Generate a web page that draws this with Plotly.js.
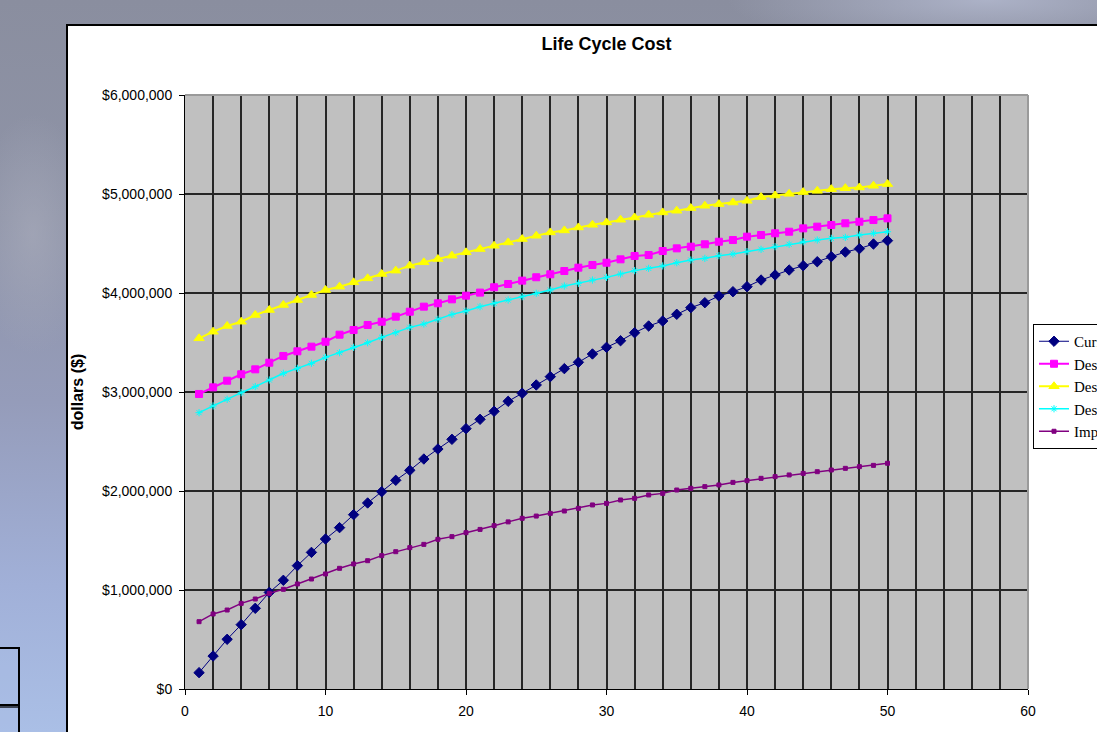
<!DOCTYPE html>
<html>
<head>
<meta charset="utf-8">
<script src="https://cdn.plot.ly/plotly-3.0.1.min.js"></script>
<style>
html, body { margin:0; padding:0; width:1097px; height:732px; overflow:hidden; }
body {
  position:relative;
  background:
    radial-gradient(ellipse 260px 50px at 90% 0%, rgba(178,184,206,0.85), rgba(178,184,206,0) 100%),
    radial-gradient(ellipse 60px 120px at 3% 32%, rgba(170,173,188,0.6), rgba(170,173,188,0) 100%),
    linear-gradient(180deg, #8a8e9f 0%, #8f94a8 30%, #959cba 55%, #a1b0d8 80%, #aabfe6 100%);
}
#panel { position:absolute; left:66px; top:24px; width:1060px; height:740px; background:#fff; border:2px solid #000; }
#tbl { position:absolute; left:-4px; top:647px; width:20px; height:57px; border:2px solid #000; background:rgba(170,190,230,0.35); }
#tbl2 { position:absolute; left:-4px; top:704px; width:20px; height:60px; border:2px solid #000; background:rgba(170,190,230,0.35); }
#chart { position:absolute; left:0; top:0; width:1097px; height:732px; }
</style>
</head>
<body>
<div id="panel"></div>
<div id="tbl"></div>
<div id="tbl2"></div>
<div id="chart"></div>
<script>
// Years of service
const years = [1,2,3,4,5,6,7,8,9,10,11,12,13,14,15,16,17,18,19,20,
  21,22,23,24,25,26,27,28,29,30,31,32,33,34,35,36,37,38,39,40,
  41,42,43,44,45,46,47,48,49,50];

// Series names (legend, partly cut off in the reference)
const seriesNames = ['Current', 'Design 1', 'Design 2', 'Design 3', 'Improved'];

// Cumulative life cycle cost, in thousands of dollars
const currentK = [165,333,502,650,815,976,1098,1246,1380,1515,1630,1761,1879,1993,2108,2209,2323,2424,2522,2630,
  2724,2805,2906,2987,3071,3155,3236,3300,3384,3451,3518,3599,3667,3717,3785,3852,3902,3970,4013,4064,
  4131,4182,4232,4276,4316,4367,4414,4448,4495,4529];
const design1K = [2980,3047,3114,3179,3229,3296,3364,3411,3458,3508,3579,3626,3677,3710,3761,3811,3862,3896,3936,3973,
  4004,4058,4091,4125,4159,4189,4222,4256,4283,4306,4340,4374,4384,4424,4451,4468,4492,4518,4535,4569,
  4586,4603,4619,4653,4670,4687,4704,4720,4737,4754];
const design2K = [3542,3609,3667,3710,3778,3828,3879,3929,3980,4030,4064,4108,4148,4192,4226,4276,4310,4343,4377,4411,
  4444,4477,4511,4545,4578,4612,4632,4662,4689,4713,4740,4763,4790,4814,4831,4858,4881,4898,4914,4931,
  4969,4985,5002,5019,5032,5049,5059,5066,5083,5100];
const design3K = [2791,2859,2926,2993,3054,3121,3189,3239,3290,3350,3397,3451,3498,3552,3599,3653,3687,3734,3784,3818,
  3862,3896,3929,3963,3997,4030,4071,4098,4131,4158,4192,4226,4249,4273,4306,4333,4350,4377,4394,4418,
  4441,4468,4492,4518,4535,4552,4562,4586,4603,4619];
const improvedK = [680,758,798,865,909,966,1007,1061,1111,1162,1219,1263,1296,1347,1387,1428,1461,1512,1539,1579,
  1612,1650,1688,1724,1747,1774,1798,1825,1859,1875,1909,1926,1960,1976,2010,2027,2044,2061,2087,2104,
  2128,2145,2162,2178,2195,2212,2229,2246,2259,2280];

const toDollars = arr => arr.map(v => v * 1000);

const styles = [
  {color:'#000080', lw:1,   symbol:'diamond',      size:8},
  {color:'#FF00FF', lw:2,   symbol:'square',       size:7},
  {color:'#FFFF00', lw:2,   symbol:'triangle-up',  size:9},
  {color:'#00FFFF', lw:1.5, symbol:'asterisk-open',size:6},
  {color:'#800080', lw:1.5, symbol:'square',       size:4}
];
const seriesData = [currentK, design1K, design2K, design3K, improvedK];

const traces = seriesData.map((d, i) => ({
  type:'scatter', mode:'lines+markers',
  x: years, y: toDollars(d), name: seriesNames[i], legendgroup: 'g' + i,
  line:{color:styles[i].color, width:styles[i].lw},
  marker:{symbol:styles[i].symbol, size:styles[i].size, color:styles[i].color,
          line:{color:styles[i].color, width:1}}
}));

const L = 185, R = 1028, T = 95, B = 689;
const pw = R - L, ph = B - T;
const tickFont = {family:'Liberation Sans, Arial, sans-serif', size:14, color:'#000'};
const gridCol = '#262626';

const layout = {
  width:1097, height:732,
  paper_bgcolor:'rgba(0,0,0,0)',
  plot_bgcolor:'#C0C0C0',
  margin:{l:L, r:1097-R, t:T, b:732-B, autoexpand:false},
  title:{text:'Life Cycle Cost', font:{family:'Liberation Sans, Arial, sans-serif', size:18, color:'#000', weight:'bold'},
         x:0.5, xref:'paper', xanchor:'center', y:1-44/732, yref:'container', yanchor:'middle'},
  showlegend:true,
  legend:{x:(1033-L)/pw, xref:'paper', xanchor:'left', y:(B-324)/ph, yref:'paper', yanchor:'top',
          bgcolor:'#fff', bordercolor:'#000', borderwidth:1, tracegroupgap:6, traceorder:'normal',
          font:{family:'Liberation Serif, Times New Roman, serif', size:15, color:'#000'}},
  xaxis:{range:[0,60], tick0:0, dtick:10, ticks:'outside', ticklen:5, tickwidth:1, tickcolor:'#000',
         ticklabelstandoff:4,
         showline:true, linecolor:'#000', linewidth:1, zeroline:false,
         showgrid:true, gridcolor:gridCol, gridwidth:2,
         minor:{tick0:0, dtick:2, showgrid:true, gridcolor:gridCol, gridwidth:2, ticks:''},
         tickfont:tickFont, fixedrange:true},
  yaxis:{range:[0,6000000], tick0:0, dtick:1000000, tickprefix:'$', tickformat:',d',
         ticks:'outside', ticklen:5, tickwidth:1, tickcolor:'#000',
         ticklabelstandoff:4,
         showline:true, linecolor:'#000', linewidth:1, zeroline:false,
         showgrid:true, gridcolor:gridCol, gridwidth:2,
         tickfont:tickFont, fixedrange:true,
         title:{text:'dollars ($)', standoff:14,
                font:{family:'Liberation Sans, Arial, sans-serif', size:16, color:'#000', weight:'bold'}}},
  shapes:[
    {type:'line', xref:'paper', yref:'paper', x0:0, x1:1, y0:1, y1:1, line:{color:'#9a9a9a', width:2}, layer:'above'},
    {type:'line', xref:'paper', yref:'paper', x0:1, x1:1, y0:0, y1:1, line:{color:'#9a9a9a', width:2}, layer:'above'}
  ]
};

Plotly.newPlot('chart', traces, layout, {staticPlot:true, displayModeBar:false});
</script>
</body>
</html>
